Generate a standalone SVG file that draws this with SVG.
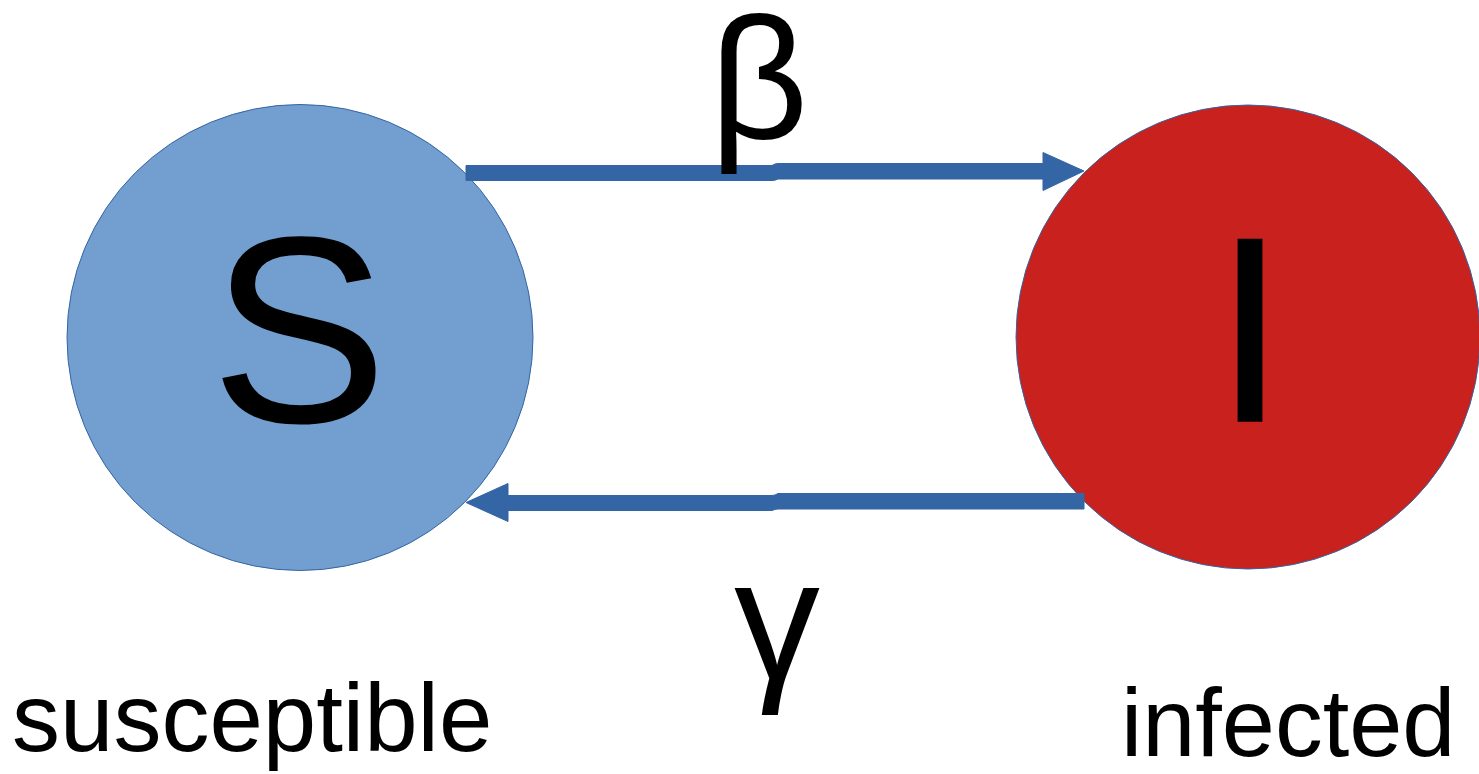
<svg xmlns="http://www.w3.org/2000/svg" width="1479" height="774" viewBox="0 0 1479 774">
<style>
.t{font-family:"Liberation Sans",Arial,sans-serif;fill:#000}
.conn{fill:#3465a4;stroke:#3465a4;stroke-width:1;stroke-linejoin:round}
</style>
<rect width="1479" height="774" fill="#fff"/>
<g id="node-S">
<circle cx="300" cy="337.5" r="233" fill="#729fcf" stroke="#3465a4" stroke-width="1"/>
<text class="t" x="299" y="422" font-size="266" text-anchor="middle">S</text>
</g>
<g id="node-I">
<circle cx="1248" cy="337" r="232" fill="#c9211e" stroke="#3465a4" stroke-width="1"/>
<text class="t" x="1250" y="421.7" font-size="266" text-anchor="middle">I</text>
</g>
<g id="connectors">
<path class="conn" d="M466,165.5 L772,165.5 Q775,163.5 778,163.5 L1043,163.5 L1043,152.5 L1084,171 L1043,190.5 L1043,179 L778,179 Q775,180.5 772,180.5 L466,180.5 Z"/>
<path class="conn" d="M1084,493.5 L778,493.5 Q775,495.5 772,495.5 L508,495.5 L508,483.5 L466,502.5 L508,521.5 L508,510.5 L772,510.5 Q775,509 778,509 L1084,509 Z"/>
</g>
<g id="labels">
<text class="t" x="759" y="138" font-size="172" text-anchor="middle">β</text>
<text class="t" x="777" y="679" font-size="172" text-anchor="middle">γ</text>
<text class="t" x="12" y="751" font-size="96">susceptible</text>
<text class="t" x="1121" y="756" font-size="95.5">infected</text>
</g>
</svg>
